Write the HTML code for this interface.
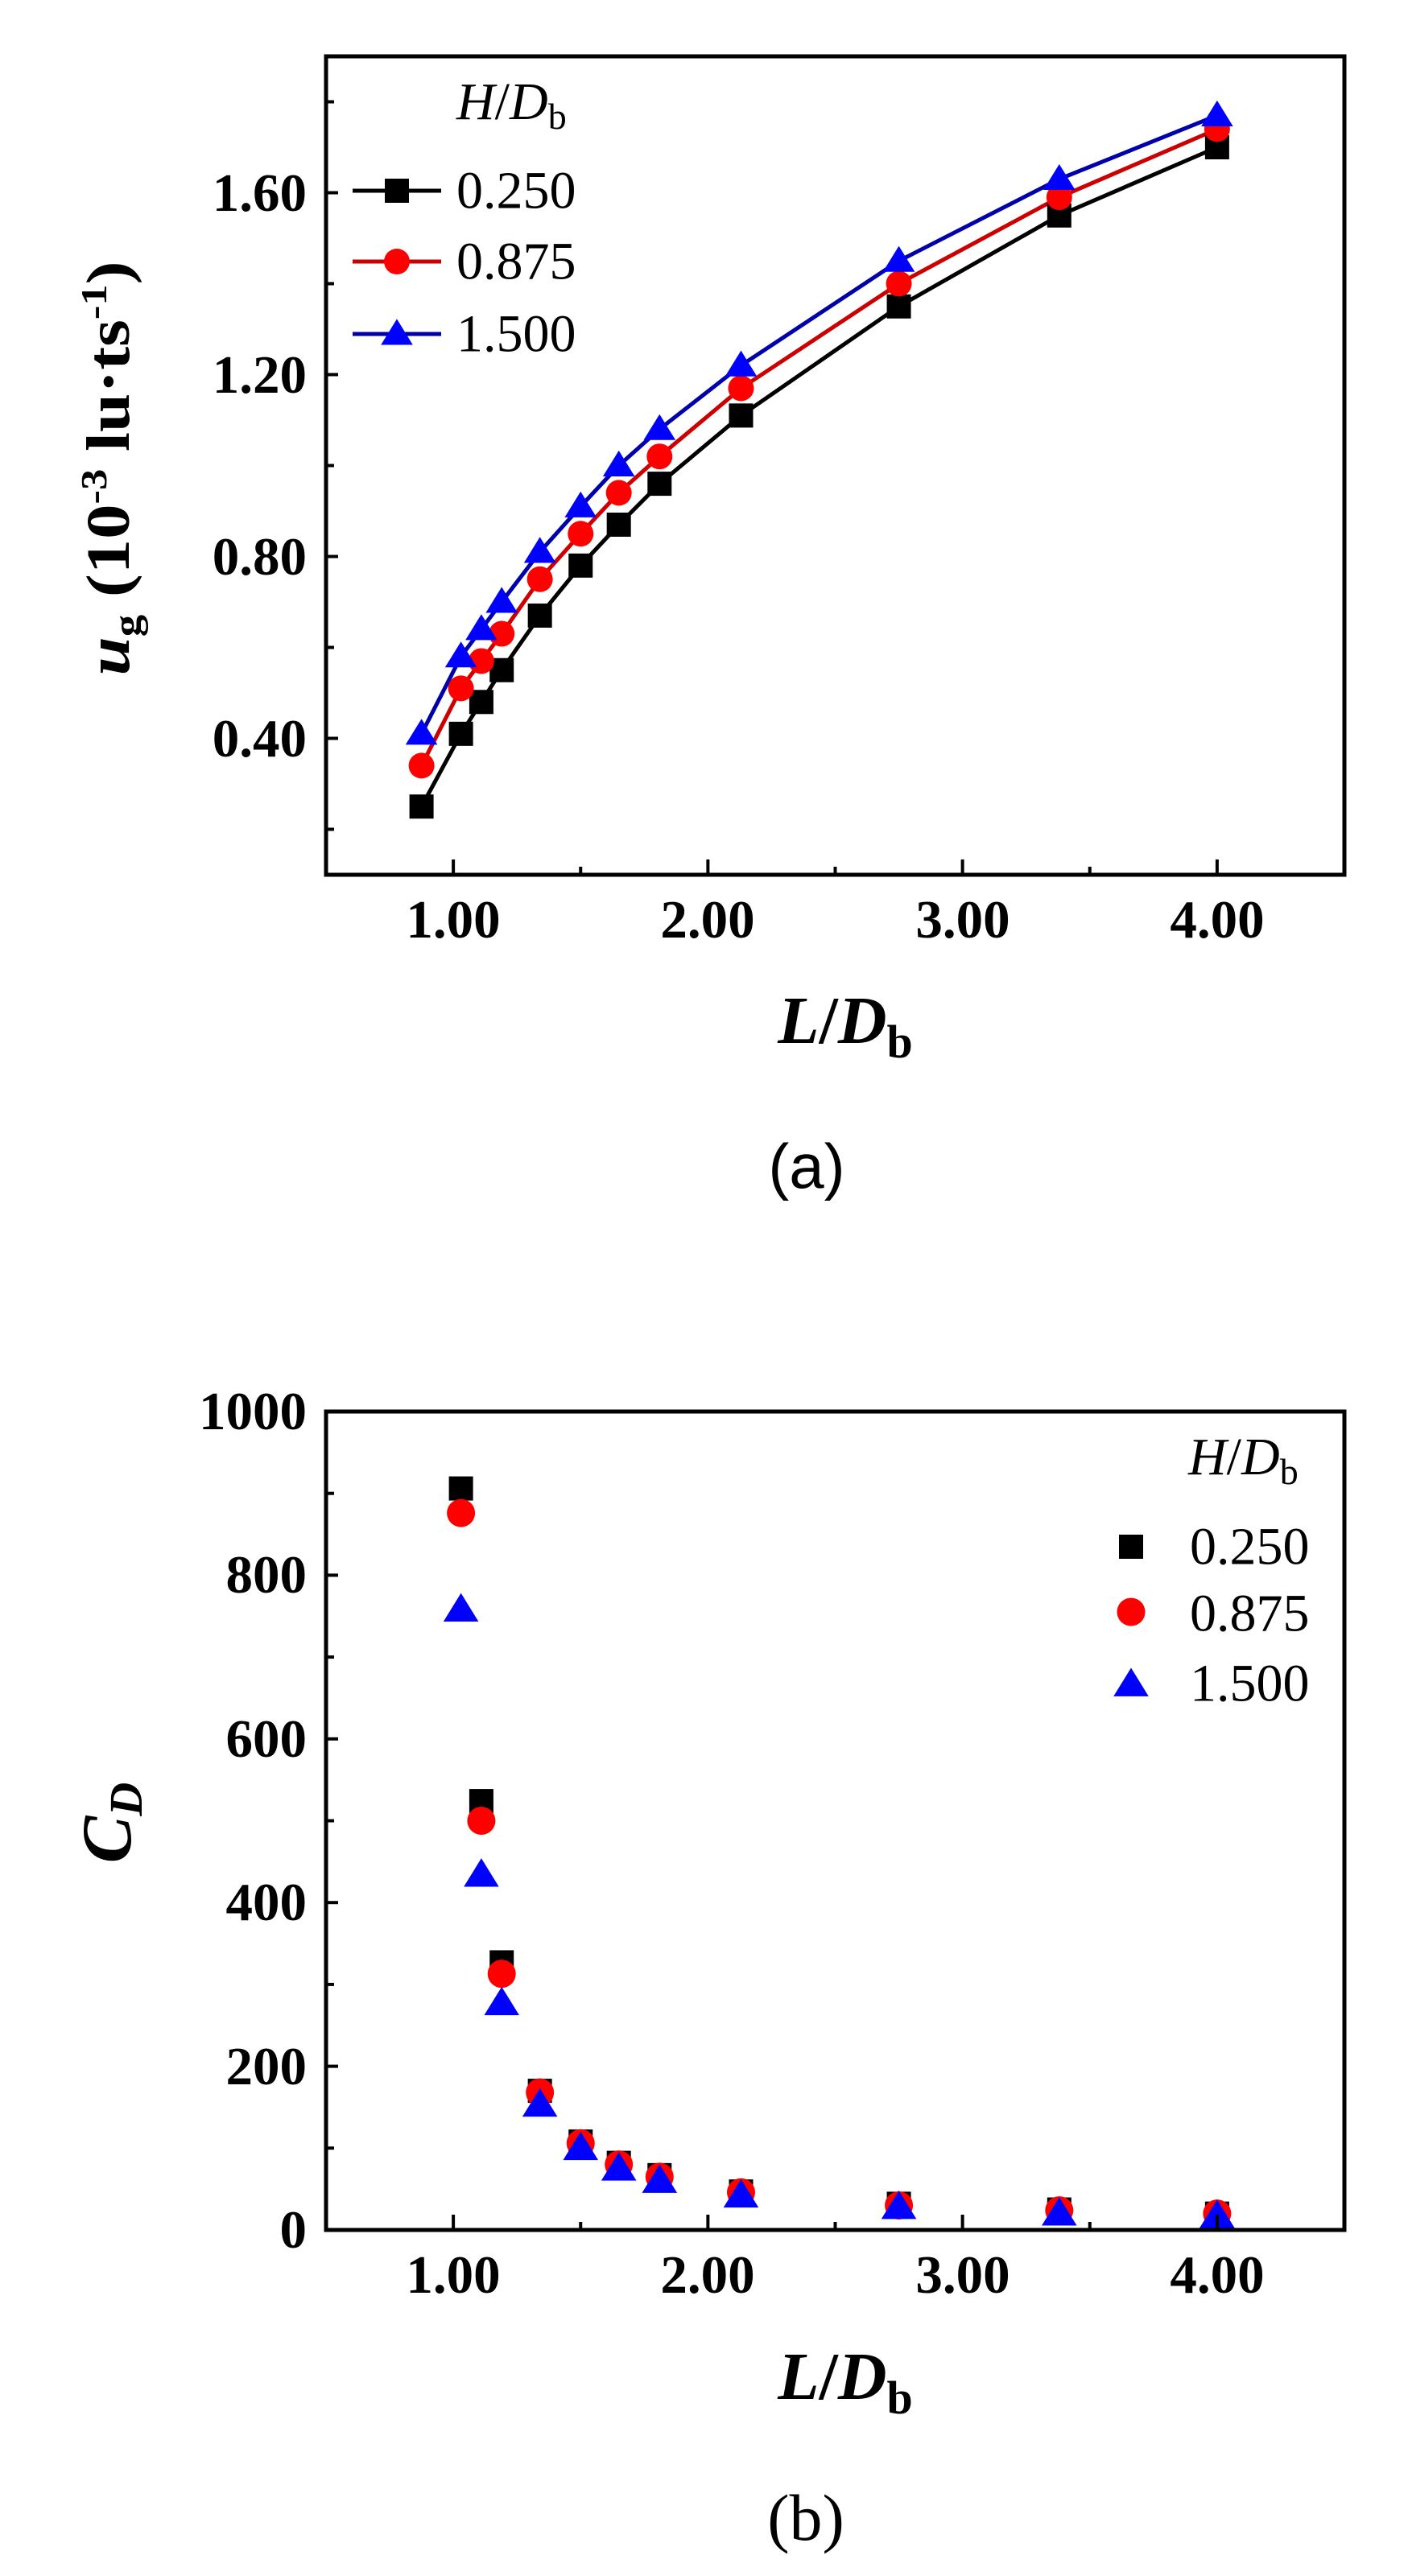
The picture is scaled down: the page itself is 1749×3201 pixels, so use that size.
<!DOCTYPE html>
<html><head><meta charset="utf-8"><style>
html,body{margin:0;padding:0;background:#fff;}
svg{display:block;}
.tk{font-family:"Liberation Serif",serif;font-weight:bold;font-size:67px;}
.lg{font-family:"Liberation Serif",serif;font-size:66px;}
</style></head><body>
<svg id="s" width="1749" height="3201" viewBox="0 0 1749 3201" xmlns="http://www.w3.org/2000/svg">
<rect width="1749" height="3201" fill="#fff"/>
<g id="plots"></g>
<g stroke="#000" stroke-width="5" fill="none">
<rect x="405" y="70" width="1265" height="1017"/>
<rect x="405" y="1754" width="1265" height="1017"/>
</g>
<g id="ticks" stroke="#000" stroke-width="4"></g>
<g class="tk" text-anchor="end" dominant-baseline="central">
<text x="381" y="240">1.60</text>
<text x="381" y="466">1.20</text>
<text x="381" y="692">0.80</text>
<text x="381" y="918">0.40</text>
</g>
<g class="tk" text-anchor="middle" dominant-baseline="central">
<text x="563" y="1143">1.00</text>
<text x="879" y="1143">2.00</text>
<text x="1196" y="1143">3.00</text>
<text x="1512" y="1143">4.00</text>
<text x="563" y="2827">1.00</text>
<text x="879" y="2827">2.00</text>
<text x="1196" y="2827">3.00</text>
<text x="1512" y="2827">4.00</text>
</g>
<g class="tk" text-anchor="end" dominant-baseline="central">
<text x="381" y="1754">1000</text>
<text x="381" y="1957">800</text>
<text x="381" y="2161">600</text>
<text x="381" y="2364">400</text>
<text x="381" y="2568">200</text>
<text x="381" y="2771">0</text>
</g>
<text transform="translate(160,582) rotate(-90)" text-anchor="middle" font-family="Liberation Serif,serif" font-weight="bold" font-size="76" textLength="515" lengthAdjust="spacingAndGlyphs"><tspan font-style="italic">u</tspan><tspan font-size="48" dy="14">g</tspan><tspan dy="-14"> (10</tspan><tspan font-size="46" dy="-28">-3</tspan><tspan dy="28"> lu·ts</tspan><tspan font-size="46" dy="-28">-1</tspan><tspan dy="28">)</tspan></text>
<text transform="translate(162,2265) rotate(-90)" text-anchor="middle" font-family="Liberation Serif,serif" font-weight="bold" font-style="italic" font-size="88">C<tspan font-size="58" dy="14">D</tspan></text>
<text x="1050" y="1296" text-anchor="middle" font-family="Liberation Serif,serif" font-weight="bold" font-size="84"><tspan font-style="italic">L</tspan>/<tspan font-style="italic">D</tspan><tspan font-size="58" dy="18">b</tspan></text>
<text x="1050" y="2981" text-anchor="middle" font-family="Liberation Serif,serif" font-weight="bold" font-size="84"><tspan font-style="italic">L</tspan>/<tspan font-style="italic">D</tspan><tspan font-size="58" dy="18">b</tspan></text>
<text x="1002" y="1476" text-anchor="middle" font-family="Liberation Sans,sans-serif" font-size="78">(a)</text>
<text x="1001" y="3156" text-anchor="middle" font-family="Liberation Serif,serif" font-size="82">(b)</text>
<text x="567" y="148" class="lg"><tspan font-style="italic">H</tspan>/<tspan font-style="italic">D</tspan><tspan font-size="46" dy="12">b</tspan></text>
<g class="lg" dominant-baseline="central">
<text x="567" y="237">0.250</text>
<text x="567" y="325">0.875</text>
<text x="567" y="415">1.500</text>
</g>
<text x="1476" y="1832" class="lg"><tspan font-style="italic">H</tspan>/<tspan font-style="italic">D</tspan><tspan font-size="46" dy="12">b</tspan></text>
<g class="lg" dominant-baseline="central">
<text x="1478" y="1922">0.250</text>
<text x="1478" y="2005">0.875</text>
<text x="1478" y="2092">1.500</text>
</g>
<g id="leg"></g>
</svg>
<script>
var NS="http://www.w3.org/2000/svg";
function el(p,t,a){var e=document.createElementNS(NS,t);for(var k in a)e.setAttribute(k,a[k]);p.appendChild(e);return e;}
var X=function(v){return 405+(v-0.5)*316.25;};
var YA=function(v){return 1087-(v-0.1)*1017/1.8;};
var YB=function(v){return 2771-v*1.017;};
var tk=document.getElementById('ticks');
[1,2,3,4].forEach(function(v){el(tk,'line',{x1:X(v),x2:X(v),y1:1087,y2:1068});el(tk,'line',{x1:X(v),x2:X(v),y1:2771,y2:2752});});
[1.5,2.5,3.5].forEach(function(v){el(tk,'line',{x1:X(v),x2:X(v),y1:1087,y2:1077});el(tk,'line',{x1:X(v),x2:X(v),y1:2771,y2:2761});});
for(var v=0.2;v<1.85;v+=0.2){var big=Math.abs((v*10)%4)<0.01||Math.abs((v*10)%4-4)<0.01;el(tk,'line',{x1:405,x2:big?420:415,y1:YA(v),y2:YA(v)});}
for(var v=100;v<1000;v+=100){var big=v%200==0;el(tk,'line',{x1:405,x2:big?420:415,y1:YB(v),y2:YB(v)});}
function mark(g,type,x,y,s){
 if(type==0)el(g,'rect',{x:x-s/2,y:y-s/2,width:s,height:s,fill:'#000'});
 else if(type==1)el(g,'circle',{cx:x,cy:y,r:s/2+1,fill:'#f00'});
 else el(g,'polygon',{points:(x)+','+(y-s*0.62)+' '+(x-s*0.66)+','+(y+s*0.45)+' '+(x+s*0.66)+','+(y+s*0.45),fill:'#00f'});
}
var g=document.getElementById('plots');
var xa=[0.875,1.03,1.11,1.19,1.34,1.5,1.65,1.81,2.13,2.75,3.38,4.0];
var ya=[[0.25,0.41,0.48,0.55,0.67,0.78,0.87,0.96,1.11,1.35,1.55,1.70],
        [0.34,0.51,0.57,0.63,0.75,0.85,0.94,1.02,1.17,1.40,1.59,1.74],
        [0.41,0.58,0.64,0.70,0.81,0.91,1.00,1.08,1.22,1.45,1.63,1.77]];
var cols=['#000','#c00','#00a'];
for(var s=0;s<3;s++){var pts=xa.map(function(x,i){return X(x)+','+YA(ya[s][i]);}).join(' ');
 el(g,'polyline',{points:pts,fill:'none',stroke:cols[s],'stroke-width':5});}
for(var s=0;s<3;s++)xa.forEach(function(x,i){mark(g,s,X(x),YA(ya[s][i]),30);});
var xb=[1.03,1.11,1.19,1.34,1.5,1.65,1.81,2.13,2.75,3.38,4.0];
var yb=[[906,524,327,170,108,82,67,47,32,25,20],
        [876,500,313,168,106,80,65,46,30,24,20],
        [758,434,277,153,100,75,60,42,28,20,17]];
for(var s=0;s<3;s++)xb.forEach(function(x,i){mark(g,s,X(x),YB(yb[s][i]),s==0?30:33);});
var lg=document.getElementById('leg');
[[237,'#000'],[325,'#c00'],[415,'#00a']].forEach(function(r,i){el(lg,'line',{x1:438,x2:548,y1:r[0],y2:r[0],stroke:r[1],'stroke-width':5});mark(lg,i,493,r[0],30);});
[1922,2003,2093].forEach(function(y,i){mark(lg,i,1405,y,i==0?30:33);});
</script>
</body></html>
